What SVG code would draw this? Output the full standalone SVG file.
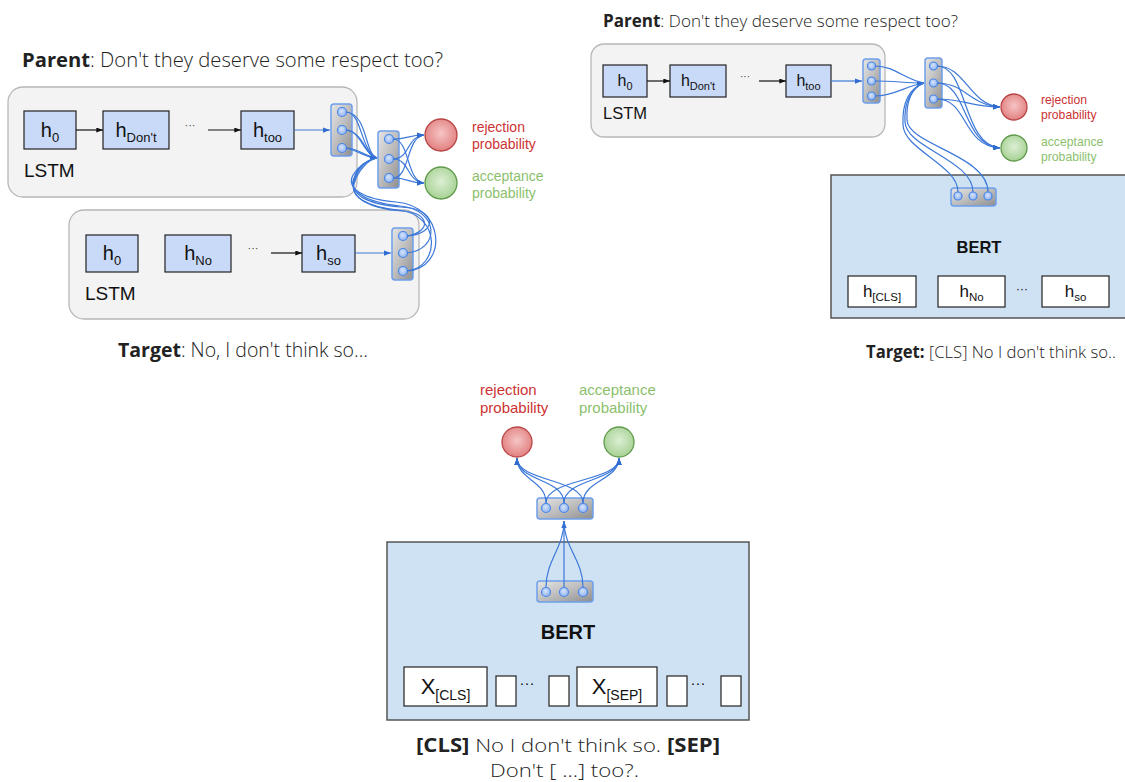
<svg xmlns="http://www.w3.org/2000/svg" width="1125" height="782" viewBox="0 0 1125 782">
<style>
.lstm{fill:#f3f3f3;stroke:#b7b7b7;stroke-width:1.3}
.hb{fill:#c9daf8;stroke:#222;stroke-width:1.2}
.wb{fill:#fff;stroke:#222;stroke-width:1.2}
.bert{fill:#cfe2f3;stroke:#555;stroke-width:1.5}
.pool{fill:url(#gPool);stroke:#6d9eeb;stroke-width:1.5}
.pc{fill:url(#gDot);stroke:#4a86e8;stroke-width:1.2}
.red{fill:url(#gRed);stroke:#b84545;stroke-width:1.3}
.green{fill:url(#gGreen);stroke:#5f9a4a;stroke-width:1.3}
.ar{fill:none;stroke:#3c78d8;stroke-width:1.2;marker-end:url(#mb)}
.ln{fill:none;stroke:#3c78d8;stroke-width:1.2}
.bk{fill:none;stroke:#111;stroke-width:1.2;marker-end:url(#mk)}
.sans{font-family:"Liberation Sans",Arial,sans-serif;fill:#111}
.hand{font-family:"Open Sans","DejaVu Sans",sans-serif;fill:#222;font-weight:300}
.rej{font-family:"Liberation Sans",Arial,sans-serif;fill:#cc3333}
.acc{font-family:"Liberation Sans",Arial,sans-serif;fill:#8cbf6d}
.dots{font-family:"Liberation Sans",Arial,sans-serif;fill:#444}
</style>
<defs>
<linearGradient id="gPool" x1="0" y1="0" x2="1" y2="1">
<stop offset="0" stop-color="#e6e6e6"/>
<stop offset="0.5" stop-color="#bdbdbd"/>
<stop offset="1" stop-color="#8e8e8e"/>
</linearGradient>
<radialGradient id="gDot" cx="0.45" cy="0.4" r="0.6">
<stop offset="0" stop-color="#d6e4fb"/>
<stop offset="1" stop-color="#8fb3f0"/>
</radialGradient>
<radialGradient id="gRed" cx="0.5" cy="0.45" r="0.6">
<stop offset="0" stop-color="#f6c5c5"/>
<stop offset="1" stop-color="#e07a7a"/>
</radialGradient>
<radialGradient id="gGreen" cx="0.5" cy="0.45" r="0.6">
<stop offset="0" stop-color="#dcefd4"/>
<stop offset="1" stop-color="#a3cf8f"/>
</radialGradient>
<marker id="mb" viewBox="0 0 8 6" refX="8" refY="3" markerWidth="7" markerHeight="5.5" markerUnits="userSpaceOnUse" orient="auto">
<path d="M0,0 L8,3 L0,6 z" fill="#2f6bd0"/>
</marker>
<marker id="mk" viewBox="0 0 8 6" refX="8" refY="3" markerWidth="7" markerHeight="5" markerUnits="userSpaceOnUse" orient="auto">
<path d="M0,0 L8,3 L0,6 z" fill="#111"/>
</marker>
</defs>

<!-- ===== Top-left model ===== -->
<text id="tl-parent" class="hand" x="22" y="67" font-size="20" textLength="421" lengthAdjust="spacingAndGlyphs"><tspan font-weight="700">Parent</tspan>: Don't they deserve some respect too?</text>

<g id="tl-lstm1">
<rect class="lstm" x="8" y="87" width="349" height="110" rx="15"/>
<text class="sans" x="24" y="177" font-size="19">LSTM</text>
</g>
<g id="tl-h0"><rect class="hb" x="24" y="111" width="52" height="38"/><text class="sans" x="50" y="137" font-size="20" text-anchor="middle">h<tspan font-size="13" dy="5">0</tspan></text></g>
<g id="tl-hdont"><rect class="hb" x="103" y="111" width="66" height="38"/><text class="sans" x="136" y="137" font-size="20" text-anchor="middle">h<tspan font-size="13" dy="5">Don't</tspan></text></g>
<text class="dots" x="190" y="129" font-size="11" text-anchor="middle">···</text>
<g id="tl-htoo"><rect class="hb" x="241" y="111" width="53" height="38"/><text class="sans" x="267.5" y="137" font-size="20" text-anchor="middle">h<tspan font-size="13" dy="5">too</tspan></text></g>

<g id="tl-lstm2">
<rect class="lstm" x="69" y="210" width="350" height="109" rx="15"/>
<text class="sans" x="85" y="300" font-size="19">LSTM</text>
</g>
<g id="tl2-h0"><rect class="hb" x="86" y="235" width="52" height="37"/><text class="sans" x="112" y="260" font-size="20" text-anchor="middle">h<tspan font-size="13" dy="5">0</tspan></text></g>
<g id="tl2-hno"><rect class="hb" x="165" y="235" width="66" height="37"/><text class="sans" x="198" y="260" font-size="20" text-anchor="middle">h<tspan font-size="13" dy="5">No</tspan></text></g>
<text class="dots" x="253" y="252" font-size="11" text-anchor="middle">···</text>
<g id="tl2-hso"><rect class="hb" x="302" y="235" width="53" height="37"/><text class="sans" x="328.5" y="260" font-size="20" text-anchor="middle">h<tspan font-size="13" dy="5">so</tspan></text></g>

<text id="tl-target" class="hand" x="118" y="357" font-size="20" textLength="250" lengthAdjust="spacingAndGlyphs"><tspan font-weight="700">Target</tspan>: No, I don't think so...</text>

<g id="tl-pool1"><rect class="pool" x="331" y="104" width="21" height="52" rx="3"/><circle class="pc" cx="342" cy="112" r="4.5"/><circle class="pc" cx="342" cy="130" r="4.5"/><circle class="pc" cx="342" cy="148" r="4.5"/></g>
<g id="tl-pool2"><rect class="pool" x="378" y="131" width="21" height="57" rx="3"/><circle class="pc" cx="389" cy="139" r="4.5"/><circle class="pc" cx="389" cy="159" r="4.5"/><circle class="pc" cx="389" cy="178" r="4.5"/></g>
<g id="tl-pool3"><rect class="pool" x="392" y="228" width="21" height="52" rx="3"/><circle class="pc" cx="403" cy="236" r="4.5"/><circle class="pc" cx="403" cy="253" r="4.5"/><circle class="pc" cx="403" cy="271" r="4.5"/></g>

<g id="tl-reject"><circle class="red" cx="441" cy="135" r="16"/><text class="rej" font-size="14"><tspan x="472" y="132">rejection</tspan><tspan x="472" y="149">probability</tspan></text></g>
<g id="tl-accept"><circle class="green" cx="441" cy="183" r="16"/><text class="acc" font-size="14"><tspan x="472" y="181">acceptance</tspan><tspan x="472" y="198">probability</tspan></text></g>

<!-- ===== Top-right model ===== -->
<text id="tr-parent" class="hand" x="603" y="27" font-size="17" textLength="355" lengthAdjust="spacingAndGlyphs"><tspan font-weight="700">Parent</tspan>: Don't they deserve some respect too?</text>

<g id="tr-lstm">
<rect class="lstm" x="591" y="44" width="294" height="93" rx="13"/>
<text class="sans" x="603" y="119" font-size="16.5">LSTM</text>
</g>
<g id="tr-h0"><rect class="hb" x="603" y="65" width="44" height="32"/><text class="sans" x="625" y="86" font-size="16" text-anchor="middle">h<tspan font-size="11" dy="4">0</tspan></text></g>
<g id="tr-hdont"><rect class="hb" x="670" y="65" width="56" height="32"/><text class="sans" x="698" y="86" font-size="16" text-anchor="middle">h<tspan font-size="11" dy="4">Don't</tspan></text></g>
<text class="dots" x="745" y="80" font-size="10" text-anchor="middle">···</text>
<g id="tr-htoo"><rect class="hb" x="786" y="65" width="45" height="32"/><text class="sans" x="808.5" y="86" font-size="16" text-anchor="middle">h<tspan font-size="11" dy="4">too</tspan></text></g>

<g id="tr-bert">
<rect class="bert" x="831" y="175" width="300" height="143"/>
<text class="sans" x="979" y="253" font-size="16.5" font-weight="700" text-anchor="middle">BERT</text>
</g>
<g id="tr-hcls"><rect class="wb" x="848" y="276" width="68" height="31"/><text class="sans" x="882" y="297" font-size="17" text-anchor="middle">h<tspan font-size="11.5" dy="4">[CLS]</tspan></text></g>
<g id="tr-hno"><rect class="wb" x="938" y="276" width="67" height="31"/><text class="sans" x="971.5" y="297" font-size="17" text-anchor="middle">h<tspan font-size="11.5" dy="4">No</tspan></text></g>
<text class="sans" x="1022" y="293" font-size="12" text-anchor="middle">···</text>
<g id="tr-hso"><rect class="wb" x="1042" y="276" width="67" height="31"/><text class="sans" x="1075.5" y="297" font-size="17" text-anchor="middle">h<tspan font-size="11.5" dy="4">so</tspan></text></g>

<text id="tr-target" class="hand" x="866" y="358" font-size="17" textLength="250" lengthAdjust="spacingAndGlyphs"><tspan font-weight="700">Target:</tspan> [CLS] No I don't think so..</text>

<g id="tr-pool1"><rect class="pool" x="863" y="59" width="17" height="44" rx="3"/><circle class="pc" cx="871.5" cy="66" r="4"/><circle class="pc" cx="871.5" cy="81" r="4"/><circle class="pc" cx="871.5" cy="96" r="4"/></g>
<g id="tr-pool2"><rect class="pool" x="925" y="58" width="17" height="50" rx="3"/><circle class="pc" cx="933.5" cy="66" r="4"/><circle class="pc" cx="933.5" cy="83" r="4"/><circle class="pc" cx="933.5" cy="99" r="4"/></g>
<g id="tr-pool3"><rect class="pool" x="951" y="188" width="45" height="18" rx="3"/><circle class="pc" cx="958" cy="196" r="4"/><circle class="pc" cx="973" cy="196" r="4"/><circle class="pc" cx="988" cy="196" r="4"/></g>

<g id="tr-reject"><circle class="red" cx="1014" cy="107" r="13"/><text class="rej" font-size="12.2"><tspan x="1041" y="104">rejection</tspan><tspan x="1041" y="119">probability</tspan></text></g>
<g id="tr-accept"><circle class="green" cx="1014" cy="148" r="13"/><text class="acc" font-size="12.2"><tspan x="1041" y="146">acceptance</tspan><tspan x="1041" y="161">probability</tspan></text></g>

<!-- ===== Bottom model ===== -->
<g id="b-reject"><circle class="red" cx="517" cy="442" r="15"/><text class="rej" font-size="15"><tspan x="480" y="395">rejection</tspan><tspan x="480" y="413">probability</tspan></text></g>
<g id="b-accept"><circle class="green" cx="619" cy="442" r="15"/><text class="acc" font-size="15"><tspan x="579" y="395">acceptance</tspan><tspan x="579" y="413">probability</tspan></text></g>

<g id="b-bert">
<rect class="bert" x="387" y="542" width="362" height="178"/>
<text class="sans" x="568" y="639" font-size="20" font-weight="700" text-anchor="middle">BERT</text>
</g>
<g id="b-xcls"><rect class="wb" x="404" y="667" width="83" height="39"/><text class="sans" x="445.5" y="694" font-size="22" text-anchor="middle">X<tspan font-size="14" dy="6">[CLS]</tspan></text></g>
<g id="b-s1"><rect class="wb" x="496" y="676" width="20" height="30"/></g>
<text class="sans" x="527" y="688" font-size="15" text-anchor="middle">···</text>
<g id="b-s2"><rect class="wb" x="549" y="676" width="20" height="30"/></g>
<g id="b-xsep"><rect class="wb" x="577" y="667" width="80" height="39"/><text class="sans" x="617" y="694" font-size="22" text-anchor="middle">X<tspan font-size="14" dy="6">[SEP]</tspan></text></g>
<g id="b-s3"><rect class="wb" x="667" y="676" width="20" height="30"/></g>
<text class="sans" x="698" y="688" font-size="15" text-anchor="middle">···</text>
<g id="b-s4"><rect class="wb" x="721" y="676" width="20" height="30"/></g>

<text id="b-input1" class="hand" x="416" y="752" font-size="19" textLength="304" lengthAdjust="spacingAndGlyphs"><tspan font-weight="700">[CLS]</tspan> No I don't think so. <tspan font-weight="700">[SEP]</tspan></text>
<text id="b-input2" class="hand" x="490" y="777" font-size="19" textLength="149" lengthAdjust="spacingAndGlyphs">Don't [ ...] too?.</text>

<g id="b-pool-top"><rect class="pool" x="537" y="498" width="56" height="21" rx="3"/><circle class="pc" cx="546" cy="508" r="4.5"/><circle class="pc" cx="564" cy="508" r="4.5"/><circle class="pc" cx="583" cy="508" r="4.5"/></g>
<g id="b-pool-in"><rect class="pool" x="537" y="581" width="56" height="21" rx="3"/><circle class="pc" cx="546" cy="592" r="4.5"/><circle class="pc" cx="564" cy="592" r="4.5"/><circle class="pc" cx="583" cy="592" r="4.5"/></g>

<!-- ===== Connectors ===== -->
<g id="connectors">
<path class="bk" d="M76,130 L103,130"/>
<path class="bk" d="M208,130 L241,130"/>
<path class="bk" d="M271,253 L302,253"/>
<path class="bk" d="M647,81 L670,81"/>
<path class="bk" d="M759,81 L786,81"/>

<path class="ar" d="M294,130 L330,130"/>
<path class="ar" d="M355,253 L391,253"/>
<path class="ar" d="M831,81 L862,81"/>

<!-- top-left pool1 -> pool2 -->
<path class="ln" d="M346,112 C362,112 360,150 377,158"/>
<path class="ln" d="M346,112 C368,114 364,153 377,158"/>
<path class="ln" d="M346,130 C360,130 362,152 377,158"/>
<path class="ln" d="M346,130 C366,134 364,156 377,158"/>
<path class="ln" d="M346,148 C358,148 364,156 377,158"/>
<path class="ar" d="M346,148 C362,152 366,158 377,158"/>
<!-- top-left pool3 -> pool2 (loops) -->
<path class="ln" d="M407,236 C432,232 430,212 402,211 C370,209 350,198 354,182 C357,168 366,160 377,158"/>
<path class="ln" d="M407,236 C438,234 438,208 400,207 C366,204 350,194 354,180 C358,168 366,160 377,158"/>
<path class="ln" d="M407,253 C440,250 440,210 400,206 C364,202 348,190 354,178 C358,166 366,160 377,158"/>
<path class="ln" d="M407,271 C448,268 446,206 396,202 C362,199 346,188 353,175 C360,164 368,160 377,158"/>
<path class="ln" d="M407,271 C440,268 442,214 398,210 C366,207 350,196 354,184 C358,170 368,160 377,158"/>
<!-- top-left pool2 -> outputs -->
<path class="ar" d="M393,139 C408,139 408,135 424,135"/>
<path class="ar" d="M393,139 C410,139 406,181 424,183"/>
<path class="ar" d="M393,159 C410,159 406,137 424,135"/>
<path class="ar" d="M393,159 C410,159 406,181 424,183"/>
<path class="ar" d="M393,178 C410,178 406,137 424,135"/>
<path class="ar" d="M393,178 C408,178 408,183 424,183"/>

<!-- top-right pool1 -> pool2 -->
<path class="ln" d="M875,66 C895,66 905,80 924,83"/>
<path class="ln" d="M875,81 C895,81 905,83 924,83"/>
<path class="ar" d="M875,96 C895,96 905,86 924,83"/>
<!-- top-right bert pool -> pool2 -->
<path class="ln" d="M958,192 C958,165 904,150 903,125 C902,102 910,88 924,83"/>
<path class="ln" d="M973,192 C973,160 906,148 905,122 C904,102 911,88 924,83"/>
<path class="ln" d="M988,192 C988,155 908,145 907,120 C906,100 912,88 924,83"/>
<!-- top-right pool2 -> outputs -->
<path class="ar" d="M937,66 C965,66 970,105 1000,107"/>
<path class="ar" d="M937,66 C968,66 962,145 1000,148"/>
<path class="ar" d="M937,83 C965,83 970,105 1000,107"/>
<path class="ar" d="M937,83 C968,83 962,145 1000,148"/>
<path class="ar" d="M937,99 C965,99 970,107 1000,107"/>
<path class="ar" d="M937,99 C968,99 962,146 1000,148"/>

<!-- bottom pool -> outputs -->
<path class="ar" d="M546,503 C546,480 517,480 517,458"/>
<path class="ar" d="M546,503 C546,478 619,482 619,458"/>
<path class="ar" d="M564,503 C564,478 517,482 517,458"/>
<path class="ar" d="M564,503 C564,478 619,482 619,458"/>
<path class="ar" d="M583,503 C583,478 517,482 517,458"/>
<path class="ar" d="M583,503 C583,480 619,480 619,458"/>
<!-- bottom inner pool -> top pool -->
<path class="ln" d="M546,587 C546,560 564,548 564,521"/>
<path class="ar" d="M564,587 L564,521"/>
<path class="ln" d="M583,587 C583,560 564,548 564,521"/>
</g>
</svg>
